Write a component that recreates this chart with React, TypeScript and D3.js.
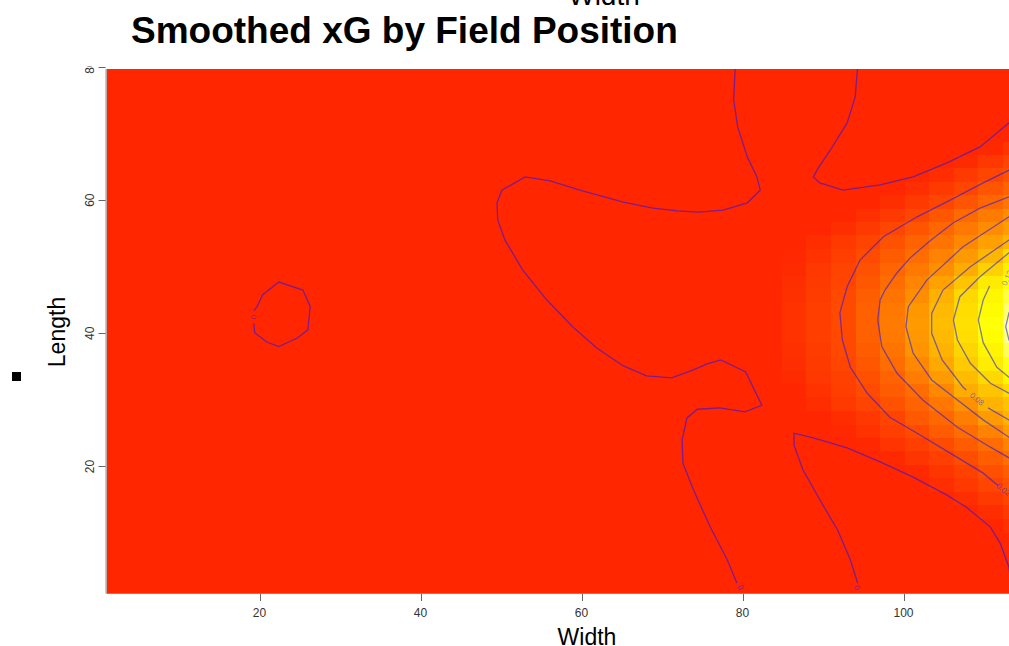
import React, { useEffect, useRef } from "react";
import * as d3 from "d3";

type Pt = [number, number];

const xTicks = [20, 40, 60, 80, 100];
const yTicks = [20, 40, 60, 80];

// smoothed xG grid, only the cells warmer than the background colour
const cellX = [86.4, 89.5, 92.5, 95.6, 98.6, 101.7, 104.7, 107.8, 110.8, 113.9];
const cellY = [
  11.1, 13.2, 15.2, 17.2, 19.2, 21.3, 23.3, 25.3, 27.3, 29.4, 31.4, 33.4, 35.4, 37.5, 39.5,
  41.5, 43.5, 45.6, 47.6, 49.6, 51.6, 53.7, 55.7, 57.7, 59.7, 61.8, 63.8, 65.8, 67.8,
];
const xgRows = [
  [0, 0, 0, 0, 0, 0, 0, 0, 0, 0.006],
  [0, 0, 0, 0, 0, 0, 0, 0, 0.005, 0.012],
  [0, 0, 0, 0, 0, 0, 0, 0.005, 0.012, 0.018],
  [0, 0, 0, 0, 0, 0, 0.005, 0.011, 0.018, 0.026],
  [0, 0, 0, 0, 0, 0.002, 0.009, 0.016, 0.024, 0.033],
  [0, 0, 0, 0, 0.002, 0.009, 0.015, 0.023, 0.033, 0.043],
  [0, 0, 0, 0.001, 0.008, 0.015, 0.022, 0.032, 0.042, 0.055],
  [0, 0, 0.001, 0.007, 0.014, 0.021, 0.031, 0.041, 0.055, 0.07],
  [0, 0, 0.004, 0.01, 0.017, 0.03, 0.039, 0.052, 0.069, 0.083],
  [0, 0.004, 0.011, 0.017, 0.026, 0.036, 0.048, 0.063, 0.083, 0.092],
  [0, 0.007, 0.014, 0.021, 0.031, 0.042, 0.058, 0.079, 0.093, 0.107],
  [0.003, 0.01, 0.016, 0.025, 0.036, 0.051, 0.069, 0.088, 0.105, 0.123],
  [0.005, 0.012, 0.018, 0.029, 0.041, 0.058, 0.077, 0.097, 0.117, 0.131],
  [0.006, 0.013, 0.02, 0.032, 0.046, 0.064, 0.083, 0.103, 0.122, 0.139],
  [0.007, 0.014, 0.02, 0.034, 0.049, 0.067, 0.087, 0.108, 0.127, 0.146],
  [0.007, 0.014, 0.021, 0.035, 0.05, 0.069, 0.089, 0.11, 0.129, 0.147],
  [0.007, 0.014, 0.021, 0.034, 0.049, 0.067, 0.087, 0.108, 0.126, 0.142],
  [0.006, 0.013, 0.02, 0.033, 0.046, 0.061, 0.082, 0.105, 0.123, 0.136],
  [0.005, 0.012, 0.018, 0.029, 0.041, 0.056, 0.073, 0.093, 0.116, 0.129],
  [0.003, 0.01, 0.017, 0.026, 0.037, 0.049, 0.062, 0.079, 0.101, 0.12],
  [0.001, 0.007, 0.014, 0.022, 0.032, 0.042, 0.054, 0.068, 0.085, 0.107],
  [0, 0.004, 0.011, 0.017, 0.026, 0.036, 0.046, 0.058, 0.072, 0.084],
  [0, 0, 0.005, 0.012, 0.019, 0.028, 0.038, 0.049, 0.06, 0.07],
  [0, 0, 0, 0.006, 0.012, 0.019, 0.029, 0.04, 0.05, 0.061],
  [0, 0, 0, 0, 0.005, 0.012, 0.019, 0.028, 0.038, 0.047],
  [0, 0, 0, 0, 0, 0.005, 0.011, 0.018, 0.027, 0.036],
  [0, 0, 0, 0, 0, 0, 0.004, 0.011, 0.018, 0.026],
  [0, 0, 0, 0, 0, 0, 0, 0.003, 0.01, 0.017],
  [0, 0, 0, 0, 0, 0, 0, 0, 0.002, 0.009],
];

// contour lines (Width, Length)
const zeroLoop: Pt[] = [
  [19.3, 41.5], [19.4, 40.1], [20.9, 38.7], [22.4, 38.0], [24.7, 39.3], [26.0, 40.5],
  [26.3, 44.0], [25.4, 46.5], [22.4, 47.7], [20.4, 45.8], [19.7, 44.0], [19.3, 43.4],
];
const zeroWest: Pt[] = [
  [79.1, 80], [78.9, 75.1], [79.4, 71.0], [80.6, 66.5], [81.8, 63.5], [82.2, 61.5], [80.6, 59.6],
  [77.6, 58.5], [74.5, 58.2], [71.9, 58.4], [68.9, 58.8], [65.2, 59.7], [59.8, 61.5], [56.1, 62.9],
  [53.0, 63.5], [50.1, 61.5], [49.5, 59.6], [49.6, 57.0], [50.5, 54.0], [52.7, 49.5], [55.7, 45.0],
  [58.9, 41.0], [61.9, 37.8], [65.2, 35.1], [68.1, 33.6], [71.2, 33.3], [73.9, 34.5], [75.6, 35.4],
  [77.3, 36.0], [80.4, 34.2], [82.4, 29.2], [80.3, 28.2], [77.2, 28.8], [74.4, 28.6], [73.1, 27.3],
  [72.5, 24.0], [72.6, 20.5], [73.9, 16.5], [76.0, 10.9], [78.1, 6.0], [79.3, 2.5],
];
const zeroNorthEast: Pt[] = [
  [94.3, 80], [94.0, 75.5], [93.0, 71.6], [90.9, 67.5], [89.4, 64.8], [88.8, 63.5], [89.6, 62.6],
  [92.5, 61.5], [97.1, 62.3], [101.2, 63.5], [105.4, 65.6], [109.5, 68.0], [113.1, 71.6], [116.3, 75.1],
];
const zeroSouthEast: Pt[] = [
  [94.3, 2.5], [93.4, 6.0], [91.8, 10.5], [89.6, 15.0], [87.5, 19.5], [86.4, 23.2], [86.4, 25.0],
  [88.8, 24.3], [93.0, 22.8], [97.1, 20.7], [101.2, 18.4], [105.4, 15.7], [107.9, 13.8],
  [110.8, 10.9], [112.0, 8.5], [113.1, 4.9], [113.5, 1],
];
const line002: Pt[] = [
  [117.0, 66.8], [113.1, 64.5], [109.9, 62.6], [105.8, 60.0], [101.7, 57.5], [97.5, 54.5],
  [94.6, 51.0], [93.0, 47.0], [92.1, 43.1], [92.4, 39.0], [93.4, 34.9], [95.5, 31.0], [98.3, 27.4],
  [101.7, 25.0], [105.8, 22.0], [109.9, 19.0], [111.7, 17.2],
];
const line004: Pt[] = [
  [117.0, 62.6], [113.1, 60.5], [109.5, 58.8], [106.2, 56.6], [103.3, 53.9], [100.8, 51.3],
  [99.2, 49.1], [97.7, 46.5], [97.1, 45.0], [96.8, 42.0], [97.3, 38.0], [99.2, 34.0], [102.4, 30.0],
  [106.7, 25.9], [110.8, 22.9], [113.1, 21.3], [117.0, 18.7],
];
const line006: Pt[] = [
  [117.0, 59.3], [113.1, 57.5], [107.4, 53.0], [102.9, 48.0], [100.6, 44.0], [100.3, 41.0],
  [101.2, 37.0], [103.5, 33.0], [106.7, 30.0], [109.9, 27.0], [113.1, 24.4], [117.0, 22.2],
];
const line008a: Pt[] = [
  [117.0, 55.8], [113.1, 54.0], [108.3, 50.0], [104.9, 46.5], [103.5, 43.0], [103.5, 40.0],
  [104.8, 36.0], [107.4, 31.9], [107.8, 31.5],
];
const line008b: Pt[] = [[110.5, 28.8], [113.1, 27.0], [117.0, 24.6]];
const line010: Pt[] = [
  [117.0, 53.3], [113.1, 52.1], [109.5, 48.5], [107.0, 45.5], [106.2, 42.0], [106.7, 39.0],
  [108.3, 35.5], [110.8, 32.5], [113.1, 31.0], [117.0, 29.2],
];
const line012: Pt[] = [
  [110.7, 47.1], [109.9, 45.0], [109.3, 42.0], [109.9, 38.6], [111.6, 34.9], [113.1, 33.4], [117.0, 31.2],
];
const line014: Pt[] = [[114.5, 45.0], [113.1, 43.1], [112.7, 41.0], [113.1, 39.0], [114.5, 36.8]];

const contourLines: { level: number; points: Pt[] }[] = [
  { level: 0, points: zeroLoop },
  { level: 0, points: zeroWest },
  { level: 0, points: zeroNorthEast },
  { level: 0, points: zeroSouthEast },
  { level: 0.02, points: line002 },
  { level: 0.04, points: line004 },
  { level: 0.06, points: line006 },
  { level: 0.08, points: line008a },
  { level: 0.08, points: line008b },
  { level: 0.1, points: line010 },
  { level: 0.12, points: line012 },
  { level: 0.14, points: line014 },
];

const contourLabels = [
  { level: 0, text: "0", x: 19.2, y: 42.45 },
  { level: 0, text: "0", x: 79.7, y: 1.8 },
  { level: 0, text: "0", x: 94.2, y: 1.8 },
  { level: 0.02, text: "0.02", x: 112.4, y: 16.5 },
  { level: 0.08, text: "0.08", x: 109.1, y: 30.1 },
  { level: 0.12, text: "0.12", x: 112.9, y: 48.3 },
];

const edgesOf = (c: number[]) => {
  const e = [c[0] - (c[1] - c[0]) / 2];
  for (let i = 1; i < c.length; i++) e.push((c[i - 1] + c[i]) / 2);
  e.push(c[c.length - 1] + (c[c.length - 1] - c[c.length - 2]) / 2);
  return e;
};

export default function App() {
  const ref = useRef<SVGSVGElement>(null);

  useEffect(() => {
    const svg = d3.select(ref.current);
    svg.selectAll("*").remove();
    const font = "'Liberation Sans', Arial, Helvetica, sans-serif";

    const x = d3.scaleLinear().domain([1, 120]).range([106.55, 1064.5]);
    const y = d3.scaleLinear().domain([1, 80]).range([593, 67]);
    const color = d3
      .scaleLinear<string>()
      .domain([0, 0.128, 0.155])
      .range(["#ff2600", "#ffff00", "#ffffd8"])
      .clamp(true);

    const defs = svg.append("defs");
    defs
      .append("clipPath")
      .attr("id", "plotClip")
      .append("rect")
      .attr("x", x(1))
      .attr("y", 69)
      .attr("width", x(120) - x(1))
      .attr("height", y(1) - 69);
    defs
      .append("clipPath")
      .attr("id", "labelClip")
      .append("rect")
      .attr("x", 0)
      .attr("y", 66)
      .attr("width", 1009)
      .attr("height", 600);

    const plot = svg.append("g").attr("clip-path", "url(#plotClip)");
    plot
      .append("rect")
      .attr("x", x(1))
      .attr("y", y(80))
      .attr("width", x(120) - x(1))
      .attr("height", y(1) - y(80))
      .attr("fill", color(0));

    const ex = edgesOf(cellX);
    const ey = edgesOf(cellY);
    const cells: { i: number; j: number; v: number }[] = [];
    xgRows.forEach((row, j) => row.forEach((v, i) => cells.push({ i, j, v })));
    plot
      .selectAll("rect.cell")
      .data(cells)
      .enter()
      .append("rect")
      .attr("class", "cell")
      .attr("x", (d) => Math.round(x(ex[d.i])))
      .attr("width", (d) => Math.round(x(ex[d.i + 1])) - Math.round(x(ex[d.i])))
      .attr("y", (d) => Math.round(y(ey[d.j + 1])))
      .attr("height", (d) => Math.round(y(ey[d.j])) - Math.round(y(ey[d.j + 1])))
      .attr("fill", (d) => color(d.v))
      .attr("shape-rendering", "crispEdges");

    const line = d3
      .line<Pt>()
      .x((d) => x(d[0]))
      .y((d) => y(d[1]));
    plot
      .selectAll("path.contour")
      .data(contourLines)
      .enter()
      .append("path")
      .attr("class", "contour")
      .attr("d", (d) => line(d.points))
      .attr("fill", "none")
      .attr("stroke", "rgb(20,20,255)")
      .attr("stroke-opacity", 0.55)
      .attr("stroke-width", 1.3);

    // label angle follows the two nearest vertices of its own level
    const labelAngle = (lab: { level: number; x: number; y: number }) => {
      const pts: Pt[] = [];
      contourLines
        .filter((c) => c.level === lab.level)
        .forEach((c) => c.points.forEach((p) => pts.push([x(p[0]), y(p[1])])));
      const lx = x(lab.x);
      const ly = y(lab.y);
      pts.sort((a, b) => Math.hypot(a[0] - lx, a[1] - ly) - Math.hypot(b[0] - lx, b[1] - ly));
      let a = (Math.atan2(pts[1][1] - pts[0][1], pts[1][0] - pts[0][0]) * 180) / Math.PI;
      if (a > 90) a -= 180;
      if (a < -90) a += 180;
      return a;
    };
    plot
      .selectAll("text.clab")
      .data(contourLabels)
      .enter()
      .append("text")
      .attr("class", "clab")
      .attr("transform", (d) => `translate(${x(d.x)},${y(d.y)}) rotate(${labelAngle(d)})`)
      .attr("text-anchor", "middle")
      .attr("dominant-baseline", "central")
      .attr("font-family", font)
      .attr("font-size", 8)
      .attr("fill", "rgb(20,20,255)")
      .attr("fill-opacity", 0.5)
      .text((d) => d.text);

    // frame lines
    svg
      .append("line")
      .attr("x1", x(1))
      .attr("x2", 1009)
      .attr("y1", y(1) + 0.5)
      .attr("y2", y(1) + 0.5)
      .attr("stroke", "#888");
    svg
      .append("line")
      .attr("x1", x(1) - 0.5)
      .attr("x2", x(1) - 0.5)
      .attr("y1", 69)
      .attr("y2", y(1) + 0.5)
      .attr("stroke", "#888");

    // x axis
    const xa = svg.append("g");
    xa.selectAll("line")
      .data(xTicks)
      .enter()
      .append("line")
      .attr("x1", (d) => Math.round(x(d)) + 0.5)
      .attr("x2", (d) => Math.round(x(d)) + 0.5)
      .attr("y1", y(1) + 1)
      .attr("y2", y(1) + 8)
      .attr("stroke", "#666");
    xa.selectAll("text")
      .data(xTicks)
      .enter()
      .append("text")
      .attr("x", (d) => x(d))
      .attr("y", 617)
      .attr("text-anchor", "middle")
      .attr("font-family", font)
      .attr("font-size", 12)
      .attr("fill", "#333")
      .text((d) => d);

    // y axis
    const ya = svg.append("g").attr("clip-path", "url(#labelClip)");
    ya.selectAll("line")
      .data(yTicks)
      .enter()
      .append("line")
      .attr("x1", x(1) - 8)
      .attr("x2", x(1) - 1)
      .attr("y1", (d) => Math.round(y(d)) + 0.5)
      .attr("y2", (d) => Math.round(y(d)) + 0.5)
      .attr("stroke", "#666");
    ya.selectAll("text")
      .data(yTicks)
      .enter()
      .append("text")
      .attr("transform", (d) => `translate(94,${y(d)}) rotate(-90)`)
      .attr("text-anchor", "middle")
      .attr("font-family", font)
      .attr("font-size", 12)
      .attr("fill", "#333")
      .text((d) => d);

    // titles
    svg
      .append("text")
      .attr("x", 131)
      .attr("y", 43)
      .attr("font-family", font)
      .attr("font-weight", "bold")
      .attr("font-size", 37)
      .attr("fill", "#000")
      .text("Smoothed xG by Field Position");
    svg
      .append("text")
      .attr("x", 604)
      .attr("y", 5)
      .attr("text-anchor", "middle")
      .attr("font-family", font)
      .attr("font-size", 28)
      .attr("fill", "#000")
      .text("Width");
    svg
      .append("text")
      .attr("x", 587)
      .attr("y", 645)
      .attr("text-anchor", "middle")
      .attr("font-family", font)
      .attr("font-size", 23)
      .attr("fill", "#000")
      .text("Width");
    svg
      .append("text")
      .attr("transform", "translate(65,332) rotate(-90)")
      .attr("text-anchor", "middle")
      .attr("font-family", font)
      .attr("font-size", 23)
      .attr("fill", "#000")
      .text("Length");

    svg.append("rect").attr("x", 12).attr("y", 372).attr("width", 9).attr("height", 9).attr("fill", "#000");
  }, []);

  return (
    <svg
      ref={ref}
      width={1009}
      height={646}
      style={{ position: "absolute", left: 0, top: 0, background: "#fff" }}
    />
  );
}
